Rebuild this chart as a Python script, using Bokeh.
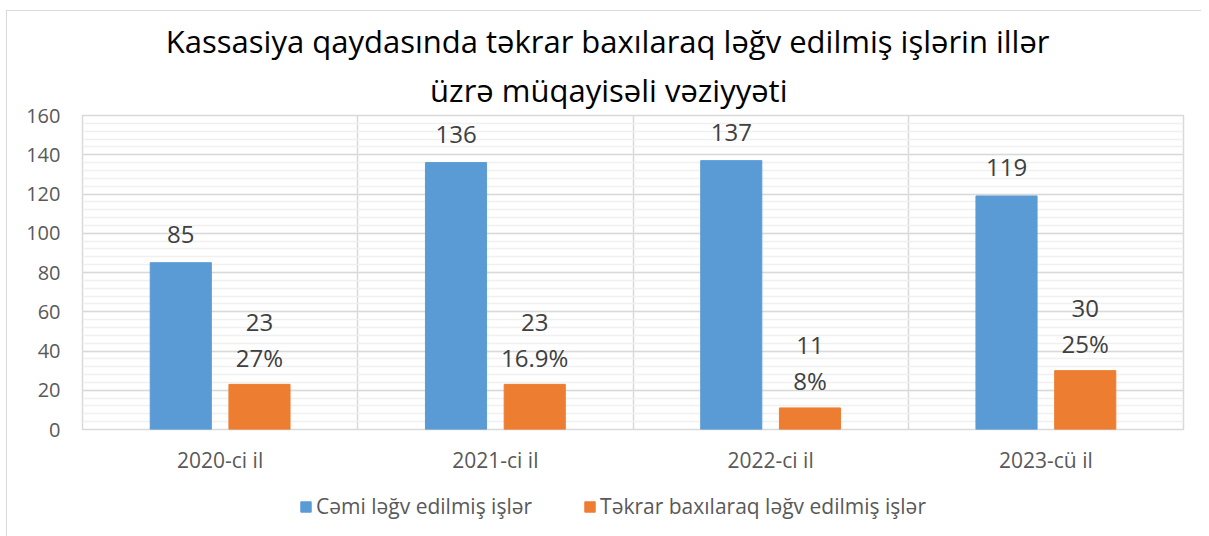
import numpy as np
from bokeh.plotting import figure
from bokeh.layouts import column
from bokeh.models import (ColumnDataSource, FixedTicker, SingleIntervalTicker, Range1d,
                          Legend, LegendItem, Title)
from bokeh.core.properties import value
from bokeh.transform import dodge
from bokeh.embed import file_html
from bokeh.resources import INLINE

# ---- data ----
categories = ["2020-ci il", "2021-ci il", "2022-ci il", "2023-cü il"]
total_cancelled = [85, 136, 137, 119]
repeat_cancelled = [23, 23, 11, 30]
repeat_share = ["27%", "16.9%", "8%", "25%"]
series_names = ["Cəmi ləğv edilmiş işlər", "Təkrar baxılaraq ləğv edilmiş işlər"]
title_lines = ["Kassasiya qaydasında təkrar baxılaraq ləğv edilmiş işlərin illər",
               "üzrə müqayisəli vəziyyəti"]

BLUE = "#5B9BD5"
ORANGE = "#ED7D31"
FONT = "Open Sans"
W = 1194

xpos = np.arange(len(categories)) + 0.5
src = ColumnDataSource(dict(
    x=xpos,
    total=total_cancelled,
    rep=repeat_cancelled,
    total_lbl=[str(v) for v in total_cancelled],
    rep_lbl=[str(v) for v in repeat_cancelled],
    share=repeat_share,
))

p = figure(width=W, height=469, output_backend="svg", toolbar_location=None,
           x_range=Range1d(0, len(categories)), y_range=Range1d(0, 160),
           min_border_left=75, min_border_right=18, min_border_top=104,
           min_border_bottom=51)
p.outline_line_color = "#d9d9d9"
p.outline_line_width = 1.5

# title (two lines)
def style_title(t, off):
    t.align = "right"
    t.offset = off
    t.text_font = FONT
    t.text_font_size = "31px"
    t.text_font_style = "normal"
    t.text_color = "#000000"

p.title.text = title_lines[0]
style_title(p.title, 134)
p.title.standoff = 0
t2 = Title(text=title_lines[1])
style_title(t2, 396)
t2.standoff = 10
p.add_layout(t2, "above")

# bars
r1 = p.vbar(x=dodge("x", -0.143, range=p.x_range), top="total", width=0.222,
            source=src, fill_color=BLUE, line_color=BLUE)
r2 = p.vbar(x=dodge("x", 0.143, range=p.x_range), top="rep", width=0.222,
            source=src, fill_color=ORANGE, line_color=ORANGE)

# data labels
lbl_kw = dict(text_font=value(FONT), text_font_size="24px", text_color="#404040",
              text_align="center", text_baseline="middle", source=src)
p.text(x=dodge("x", -0.143, range=p.x_range), y="total", text="total_lbl",
       y_offset=-28, **lbl_kw)
p.text(x=dodge("x", 0.143, range=p.x_range), y="rep", text="rep_lbl",
       y_offset=-62, **lbl_kw)
p.text(x=dodge("x", 0.143, range=p.x_range), y="rep", text="share",
       y_offset=-27, **lbl_kw)

# axes
p.xaxis.ticker = FixedTicker(ticks=list(xpos))
p.xaxis.major_label_overrides = {float(x): c for x, c in zip(xpos, categories)}
p.xaxis.axis_line_color = None
p.xaxis.major_tick_line_color = None
p.xaxis.minor_tick_line_color = None
p.xaxis.major_label_standoff = 10
p.xaxis.major_label_text_font = FONT
p.xaxis.major_label_text_font_size = "21px"
p.xaxis.major_label_text_color = "#595959"

p.yaxis.ticker = SingleIntervalTicker(interval=20, num_minor_ticks=5)
p.yaxis.axis_line_color = None
p.yaxis.major_tick_line_color = None
p.yaxis.minor_tick_line_color = None
p.yaxis.major_label_standoff = 16
p.yaxis.major_label_text_font = FONT
p.yaxis.major_label_text_font_size = "20px"
p.yaxis.major_label_text_color = "#595959"

# grids
p.xgrid.ticker = FixedTicker(ticks=list(range(1, len(categories))))
p.xgrid.grid_line_color = "#d9d9d9"
p.xgrid.grid_line_width = 1.5
p.ygrid.ticker = SingleIntervalTicker(interval=20, num_minor_ticks=5)
p.ygrid.grid_line_color = "#d9d9d9"
p.ygrid.grid_line_width = 1.5
p.ygrid.minor_grid_line_color = "#f0f0f0"
p.ygrid.minor_grid_line_width = 1.5

# legend strip below the chart (its own series glyphs lie outside its visible range)
lf = figure(width=W, height=56, output_backend="svg", toolbar_location=None,
            x_axis_type=None, y_axis_type=None, min_border=0,
            x_range=Range1d(100, 101), y_range=Range1d(1000, 1001))
lf.outline_line_color = None
lf.grid.visible = False
g1 = lf.vbar(x=dodge("x", -0.143), top="total", width=0.222, source=src,
             fill_color=BLUE, line_color=BLUE)
g2 = lf.vbar(x=dodge("x", 0.143), top="rep", width=0.222, source=src,
             fill_color=ORANGE, line_color=ORANGE)
legend = Legend(items=[LegendItem(label=series_names[0], renderers=[g1]),
                       LegendItem(label=series_names[1], renderers=[g2])],
                orientation="horizontal", location=(217, 16),
                glyph_width=13, glyph_height=13, label_standoff=4, spacing=51,
                padding=0, margin=0, border_line_color=None,
                background_fill_alpha=0,
                label_text_font=FONT, label_text_font_size="21px",
                label_text_color="#595959")
lf.add_layout(legend, "center")

layout = column(p, lf, spacing=0, margin=(10, 0, 0, 6),
                styles={"border-top": "1px solid #d9d9d9",
                        "border-left": "1px solid #d9d9d9"})
open("out.html", "w").write(file_html(layout, INLINE))
